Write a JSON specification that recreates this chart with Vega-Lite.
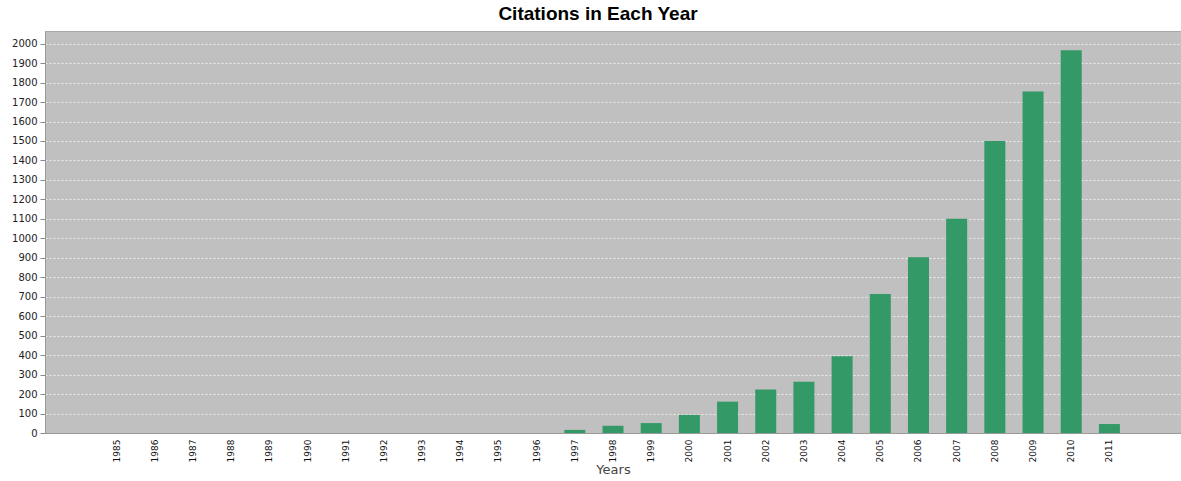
{
  "$schema": "https://vega.github.io/schema/vega-lite/v6.json",
  "autosize": {"type": "none"},
  "padding": {"left": 45, "top": 31, "right": 0, "bottom": 48},
  "width": 1136,
  "height": 402,
  "background": "#ffffff",
  "title": {
    "text": "Citations in Each Year",
    "font": "Liberation Sans",
    "fontSize": 19,
    "fontWeight": "bold",
    "color": "#000000",
    "anchor": "middle",
    "dx": -15,
    "offset": 7
  },
  "data": {
    "values": [
      {"year": "1985", "citations": 0},
      {"year": "1986", "citations": 0},
      {"year": "1987", "citations": 0},
      {"year": "1988", "citations": 0},
      {"year": "1989", "citations": 0},
      {"year": "1990", "citations": 0},
      {"year": "1991", "citations": 0},
      {"year": "1992", "citations": 0},
      {"year": "1993", "citations": 0},
      {"year": "1994", "citations": 0},
      {"year": "1995", "citations": 0},
      {"year": "1996", "citations": 0},
      {"year": "1997", "citations": 16},
      {"year": "1998", "citations": 37},
      {"year": "1999", "citations": 51},
      {"year": "2000", "citations": 93},
      {"year": "2001", "citations": 161},
      {"year": "2002", "citations": 223},
      {"year": "2003", "citations": 263},
      {"year": "2004", "citations": 394},
      {"year": "2005", "citations": 714},
      {"year": "2006", "citations": 903},
      {"year": "2007", "citations": 1100},
      {"year": "2008", "citations": 1500},
      {"year": "2009", "citations": 1754},
      {"year": "2010", "citations": 1966},
      {"year": "2011", "citations": 46}
    ]
  },
  "mark": {"type": "bar", "color": "#339966"},
  "encoding": {
    "x": {
      "field": "year",
      "type": "ordinal",
      "sort": null,
      "scale": {
        "domain": ["pre", "1985", "1986", "1987", "1988", "1989", "1990", "1991", "1992", "1993", "1994", "1995", "1996", "1997", "1998", "1999", "2000", "2001", "2002", "2003", "2004", "2005", "2006", "2007", "2008", "2009", "2010", "2011", "post"],
        "paddingInner": 0.45,
        "paddingOuter": 0.6
      },
      "axis": {
        "title": "Years",
        "values": ["1985", "1986", "1987", "1988", "1989", "1990", "1991", "1992", "1993", "1994", "1995", "1996", "1997", "1998", "1999", "2000", "2001", "2002", "2003", "2004", "2005", "2006", "2007", "2008", "2009", "2010", "2011"],
        "titleFont": "DejaVu Sans",
        "titleFontSize": 13,
        "titleFontWeight": "normal",
        "titleColor": "#444444",
        "titlePadding": 2,
        "labelAngle": -90,
        "labelFont": "DejaVu Sans",
        "labelFontSize": 9,
        "labelColor": "#111111",
        "labelPadding": 6,
        "ticks": false,
        "domainColor": "#999999",
        "grid": false
      }
    },
    "y": {
      "field": "citations",
      "type": "quantitative",
      "scale": {"domain": [0, 2065], "nice": false},
      "axis": {
        "title": null,
        "format": "d",
        "values": [0, 100, 200, 300, 400, 500, 600, 700, 800, 900, 1000, 1100, 1200, 1300, 1400, 1500, 1600, 1700, 1800, 1900, 2000],
        "labelFont": "DejaVu Sans",
        "labelFontSize": 10,
        "labelColor": "#222222",
        "labelPadding": 3,
        "tickSize": 5,
        "tickColor": "#888888",
        "domainColor": "#999999",
        "grid": true,
        "gridColor": "#ffffff",
        "gridOpacity": 0.7,
        "gridDash": [2, 2],
        "gridWidth": 1
      }
    }
  },
  "config": {
    "view": {"fill": "#c0c0c0", "stroke": "#a8a8a8"}
  }
}
